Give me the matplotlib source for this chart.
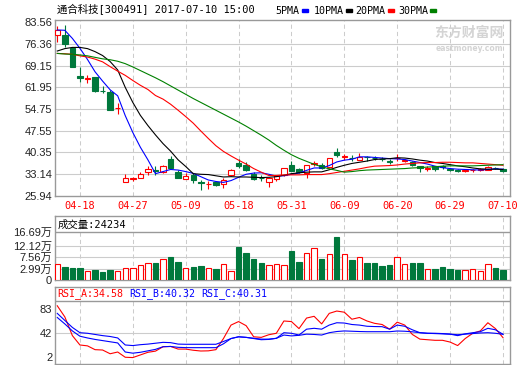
import numpy as np
import matplotlib.pyplot as plt
from matplotlib.patches import Rectangle

# trading days shown (04-13 .. 07-10)
dates = ['04-13', '04-14', '04-17', '04-18', '04-19', '04-20', '04-21', '04-24', '04-25', '04-26',
         '04-27', '04-28', '05-02', '05-03', '05-04', '05-05', '05-08', '05-09', '05-10', '05-11',
         '05-12', '05-15', '05-16', '05-17', '05-18', '05-19', '05-22', '05-23', '05-24', '05-25',
         '05-26', '05-31', '06-01', '06-02', '06-05', '06-06', '06-07', '06-08', '06-09', '06-12',
         '06-13', '06-14', '06-15', '06-16', '06-19', '06-20', '06-21', '06-22', '06-23', '06-26',
         '06-27', '06-28', '06-29', '06-30', '07-03', '07-04', '07-05', '07-06', '07-07', '07-10']
tick_dates = ['04-18', '04-27', '05-09', '05-18', '05-31', '06-09', '06-20', '06-29', '07-10']

opens = [79.3, 79.3, 74.9, 65.7, 64.8, 65.4, 60.8, 60.3, 54.9, 30.4,
         31.5, 31.7, 33.6, 34.3, 33.7, 38.0, 33.7, 31.5, 32.6, 30.3,
         29.7, 30.5, 29.6, 32.8, 36.7, 36.2, 33.0, 31.8, 30.3, 31.5,
         32.6, 36.1, 34.8, 33.3, 36.4, 36.1, 35.3, 40.5, 38.8, 38.5,
         37.8, 38.8, 38.5, 38.1, 37.3, 38.3, 37.5, 37.2, 35.8, 34.9,
         35.6, 35.6, 34.9, 34.3, 34.2, 34.3, 34.4, 34.5, 35.2, 34.8]
highs = [82.4, 82.7, 75.3, 68.6, 66.0, 65.5, 62.2, 60.9, 56.6, 33.0,
         32.2, 33.9, 35.9, 35.6, 36.0, 39.1, 34.5, 33.4, 33.4, 31.0,
         30.6, 30.9, 31.7, 34.6, 38.0, 37.0, 33.9, 32.8, 32.0, 32.8,
         35.1, 37.5, 35.0, 36.2, 37.5, 36.7, 38.5, 41.9, 39.7, 39.5,
         40.2, 39.2, 39.0, 38.7, 38.0, 39.8, 38.0, 37.4, 35.9, 35.6,
         35.8, 36.0, 35.2, 34.6, 34.9, 34.9, 35.0, 35.7, 35.5, 35.0]
lows = [77.1, 75.4, 68.8, 63.6, 63.3, 60.4, 60.0, 54.4, 53.0, 30.4,
        30.8, 31.7, 32.6, 32.8, 33.4, 35.0, 31.7, 31.5, 30.1, 27.7,
        28.2, 29.0, 28.5, 32.3, 35.2, 34.2, 31.2, 30.9, 28.7, 30.9,
        32.5, 34.0, 33.4, 31.7, 35.6, 34.7, 35.2, 38.8, 37.8, 37.3,
        37.7, 37.5, 37.8, 37.4, 36.5, 37.5, 37.0, 35.9, 33.6, 34.2,
        34.2, 34.7, 34.0, 33.6, 33.9, 33.9, 34.0, 34.3, 34.7, 33.9]
closes = [81.0, 76.3, 68.8, 64.9, 64.9, 60.7, 60.7, 54.4, 55.0, 31.9,
          31.6, 33.1, 34.8, 34.1, 35.9, 35.2, 31.9, 32.5, 31.1, 30.1,
          29.8, 29.3, 31.0, 34.5, 35.6, 34.5, 31.4, 31.6, 31.9, 32.4,
          35.0, 34.2, 33.6, 36.1, 36.6, 35.0, 38.4, 39.5, 38.9, 38.3,
          38.9, 38.6, 38.4, 38.0, 37.2, 38.4, 37.6, 36.0, 35.1, 35.0,
          34.7, 35.3, 34.3, 34.1, 34.4, 34.4, 34.6, 35.5, 35.0, 34.1]

ma5 = [81.0, 80.9, 78.2, 74.9, 71.2, 67.1, 64.0, 61.1, 59.1, 52.5,
       46.9, 42.0, 37.8, 33.2, 33.9, 34.6, 34.4, 33.9, 33.3, 32.2,
       31.1, 30.6, 30.3, 30.9, 32.0, 33.0, 33.4, 33.5, 33.0, 32.4,
       32.5, 33.0, 33.4, 34.3, 35.1, 35.1, 35.9, 37.1, 37.7, 38.0,
       38.8, 38.8, 38.6, 38.4, 38.2, 38.1, 37.9, 37.4, 36.9, 36.4,
       35.7, 35.2, 34.9, 34.7, 34.6, 34.5, 34.4, 34.6, 34.8, 34.7]
ma10 = [74.0, 74.8, 75.2, 75.2, 74.8, 73.8, 72.5, 70.5, 67.7, 61.9,
        56.9, 52.6, 49.2, 46.1, 43.2, 40.7, 37.8, 35.6, 33.2, 33.0,
        32.9, 32.5, 32.1, 32.2, 32.1, 32.1, 32.0, 31.9, 32.0, 32.2,
        32.7, 33.2, 33.5, 33.7, 33.8, 33.8, 34.5, 35.3, 36.0, 36.6,
        37.0, 37.4, 37.9, 38.1, 38.2, 38.5, 38.4, 38.1, 37.7, 37.4,
        36.9, 36.6, 36.2, 35.8, 35.5, 35.1, 34.8, 34.7, 34.7, 34.6]
ma20 = [73.2, 73.1, 72.9, 72.4, 72.0, 71.3, 70.4, 68.8, 67.3, 65.9,
        64.2, 62.6, 61.2, 59.2, 58.0, 56.3, 54.3, 52.2, 50.0, 47.4,
        44.9, 42.5, 40.6, 39.1, 37.7, 36.4, 34.9, 33.7, 32.6, 32.6,
        32.8, 32.8, 32.8, 32.9, 32.9, 32.9, 33.2, 33.6, 34.0, 34.4,
        34.8, 35.3, 35.7, 35.8, 35.9, 36.1, 36.4, 36.6, 36.8, 36.9,
        36.9, 37.0, 37.0, 36.9, 36.8, 36.8, 36.6, 36.4, 36.2, 36.0]
ma30 = [73.2, 73.0, 72.9, 72.7, 72.4, 71.9, 71.4, 71.1, 70.6, 69.8,
        68.7, 67.5, 66.3, 65.1, 63.8, 62.4, 61.0, 59.6, 58.2, 56.9,
        55.6, 54.3, 53.0, 51.7, 50.4, 49.0, 47.5, 46.0, 44.4, 42.6,
        41.0, 39.5, 38.3, 37.3, 36.3, 35.5, 34.8, 34.3, 33.7, 33.9,
        34.2, 34.4, 34.5, 34.6, 34.7, 34.8, 34.9, 35.1, 35.2, 35.4,
        35.5, 35.7, 35.8, 35.8, 35.8, 35.8, 35.9, 36.0, 36.1, 36.2]

# volume in 万 (10k shares)
volume = [4.83, 3.66, 3.38, 3.38, 2.09, 2.60, 1.81, 2.60, 2.09, 3.26,
          3.26, 4.44, 5.22, 5.22, 6.79, 7.69, 5.73, 3.26, 3.77, 4.17,
          3.38, 2.99, 4.83, 2.09, 11.6, 9.26, 7.03, 5.22, 4.44, 4.83,
          4.44, 10.04, 5.73, 9.14, 11.1, 7.03, 8.75, 15.5, 8.75, 6.52,
          7.57, 5.34, 5.34, 4.17, 4.56, 7.57, 4.83, 5.34, 5.34, 2.87,
          2.99, 3.77, 2.99, 2.60, 2.48, 2.87, 2.09, 4.83, 3.38, 2.60]

rsi_a = [89, 70, 38, 22, 20.5, 14, 13.4, 7, 10, 1,
         0.5, 5, 9.5, 11.5, 19, 19.5, 15, 15, 13, 11.7,
         12, 14, 33, 56, 62, 55, 36, 35, 39.5, 42,
         63, 62, 50, 68, 71, 58, 76, 80, 78, 66,
         69, 63, 59, 57, 49, 61, 56, 40, 32, 31,
         30, 30, 27, 21, 33, 42, 46, 60, 50, 34.58]
rsi_b = [69, 58, 46, 37, 34, 31.5, 29.5, 27.5, 25.5, 10,
         8, 9.5, 12, 14.5, 19, 19.5, 18, 17.5, 17.4, 17.4,
         17.4, 17.4, 24, 33, 36, 35, 33, 31, 31.5, 33.4,
         43, 42, 39, 49, 50.5, 49, 56, 60, 59.5, 57,
         56, 54, 53.5, 53.3, 49, 56, 54, 48, 43, 42,
         42, 41.5, 40.5, 38, 41, 43, 44.7, 50.5, 48, 40.32]
rsi_c = [76, 64, 52, 43, 42, 40, 38, 36.5, 34, 22,
         21, 22.5, 23.5, 25, 26.5, 26, 23.5, 23.2, 23.2, 23.2,
         23.2, 23.2, 28, 33, 36, 35, 33.5, 32, 32, 33.4,
         39, 37.5, 38.5, 40.5, 40, 39, 43, 45, 46, 45.5,
         45, 44.7, 44.7, 44.7, 44.7, 45.9, 45.5, 44.5, 43, 42,
         41.5, 41, 40.5, 39.5, 40.5, 41.5, 42.5, 43, 42, 40.31]

price_ticks = [25.94, 33.14, 40.35, 47.55, 54.75, 61.95, 69.15, 76.36, 83.56]
vol_ticks = [2.99, 7.56, 12.12]
rsi_ticks = [2, 42, 83]

RED = '#ff0000'
GREEN = '#00783c'
GRID = '#cccccc'
FRAME = '#999999'
num_font = ['Liberation Sans', 'Noto Sans CJK SC']
mono_font = ['DejaVu Sans Mono', 'Noto Sans CJK SC']

x = np.arange(len(dates))
o, h, l, c = map(np.array, (opens, highs, lows, closes))
up = c >= o
edge = np.where(up, RED, GREEN)
face = np.where(up, 'white', GREEN)
tick_pos = [dates.index(d) for d in tick_dates]

fig = plt.figure(figsize=(5.2, 3.65), dpi=100)


def box(top, bottom):
    return [55 / 520, 1 - bottom / 365, 455 / 520, (bottom - top) / 365]


ax = fig.add_axes(box(20, 195.5))
axv = fig.add_axes(box(216, 280.3))
axr = fig.add_axes(box(286.7, 364))

for a in (ax, axv, axr):
    a.set_xlim(-0.3, 59.93)
    for s in a.spines.values():
        s.set_color(FRAME)
        s.set_linewidth(1.0)
    a.set_xticks(tick_pos)
    a.tick_params(length=0, labelsize=8, colors='#222222', pad=2)
    for xp in tick_pos:
        a.axvline(xp, color=GRID, lw=0.75, dashes=(4, 3), zorder=0)

# --- price panel
ax.set_ylim(25.94, 84.32)
ax.set_yticks(price_ticks)
ax.set_yticklabels(['%.2f' % v for v in price_ticks], family=num_font)
for v in price_ticks[1:-1]:
    ax.axhline(v, color=GRID, lw=0.8, zorder=0)
ax.set_xticklabels(tick_dates, family=mono_font, fontsize=7.4, color=RED)
ax.tick_params(axis='x', pad=4)

ax.vlines(x, l, h, colors=edge, lw=0.8, zorder=2)
ax.bar(x, np.maximum(np.abs(c - o), 0.12), bottom=np.minimum(o, c), width=0.72,
       color=face, edgecolor=edge, lw=0.8, zorder=3)
ax.plot(x, ma5, color='#0000ff', lw=0.8, zorder=4)
ax.plot(x, ma10, color='black', lw=0.8, zorder=4)
ax.plot(x, ma20, color=RED, lw=0.8, zorder=4)
ax.plot(x, ma30, color='#008000', lw=0.8, zorder=4)

ax.text(0.985, 0.925, '东方财富网', transform=ax.transAxes, ha='right', va='center',
        fontsize=10, fontweight='bold', color='#d4d4d4', family='Noto Sans CJK SC', zorder=1)
ax.text(0.985, 0.84, 'eastmoney.com', transform=ax.transAxes, ha='right', va='center',
        fontsize=5.5, fontweight='bold', color='#d4d4d4', family='DejaVu Sans', zorder=1)

# --- volume panel
vmin = -1.44
axv.set_ylim(vmin, 23.76)
axv.set_yticks([vmin] + vol_ticks + [17.6])
axv.set_yticklabels(['0'] + ['%.2f万' % v for v in vol_ticks] + ['16.69万'], family=num_font)
axv.set_xticklabels([])
for v in vol_ticks:
    axv.axhline(v, color=GRID, lw=0.8, zorder=0)
axv.axhline(17.6, color=FRAME, lw=1.0, zorder=1)
vol = np.array(volume)
axv.bar(x, vol - vmin, bottom=vmin, width=0.72, color=face, edgecolor=edge, lw=0.8, zorder=3)
axv.text(0.005, 0.87, '成交量:24234', transform=axv.transAxes, ha='left', va='center',
         fontsize=7.5, family=mono_font, color='black')

# --- RSI panel
axr.set_ylim(-10.5, 121.6)
axr.set_yticks(rsi_ticks)
axr.set_yticklabels([str(v) for v in rsi_ticks], family=num_font)
axr.set_xticklabels([])
axr.axhline(42, color=GRID, lw=0.8, zorder=0)
axr.axhline(97.7, color=FRAME, lw=1.0, zorder=1)
axr.plot(x, rsi_a, color=RED, lw=0.8)
axr.plot(x, rsi_b, color='#0000ff', lw=0.8)
axr.plot(x, rsi_c, color='#0000ff', lw=0.8)
ty = 1 - 293.3 / 365
for xs, txt, col in [(57, 'RSI_A:34.58', RED), (129, 'RSI_B:40.32', '#0000ff'),
                     (201, 'RSI_C:40.31', '#0000ff')]:
    fig.text(xs / 520, ty, txt, color=col, fontsize=7.2, family=mono_font, va='center')

# --- header
fig.text(57 / 520, 1 - 10 / 365, '通合科技[300491] 2017-07-10 15:00', fontsize=7.5,
         family=mono_font, va='center', color='black')
for xs, txt, col in [(275.7, '5PMA', '#0000ff'), (313.3, '10PMA', 'black'),
                     (355.6, '20PMA', RED), (398, '30PMA', '#008000')]:
    t = fig.text(xs / 520, 1 - 10.5 / 365, txt, fontsize=7.2, family=mono_font,
                 va='center', color='black')
    w = len(txt) * 5.95
    fig.patches.append(Rectangle(((xs + w + 2.5) / 520, 1 - 12 / 365), 6 / 520, 3 / 365,
                                 transform=fig.transFigure, color=col))

fig.savefig('out.png', dpi=100)
